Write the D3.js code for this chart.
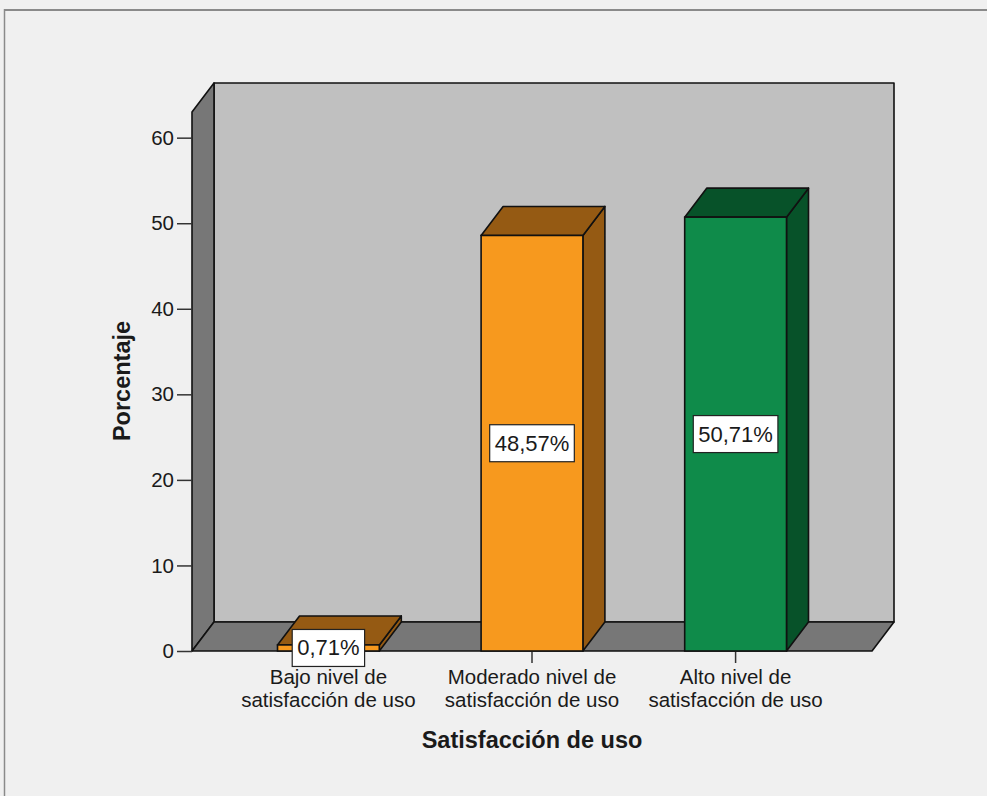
<!DOCTYPE html>
<html>
<head>
<meta charset="utf-8">
<script src="https://cdn.jsdelivr.net/npm/d3@7"></script>
<style>
  html, body { margin: 0; padding: 0; background: #f0f0f0; }
  svg { display: block; }
  text { font-family: "Liberation Sans", Arial, sans-serif; fill: #1a1a1a; }
</style>
</head>
<body>
<svg id="chart" width="987" height="796"></svg>
<script>
const categories = [["Bajo nivel de", "satisfacción de uso"], ["Moderado nivel de", "satisfacción de uso"], ["Alto nivel de", "satisfacción de uso"]];
const values = [0.71, 48.57, 50.71];
const valueLabels = ["0,71%", "48,57%", "50,71%"];
const frontColors = ["#f7991e", "#f7991e", "#0f8b4a"];
const darkColors = ["#955a13", "#955a13", "#075229"];
const yTicks = [0, 10, 20, 30, 40, 50, 60];
const yTitle = "Porcentaje";
const xTitle = "Satisfacción de uso";

const svg = d3.select("#chart");
const W = 987, H = 796;
const dx = 22, dy = -29;

svg.append("rect").attr("x", 0).attr("y", 0).attr("width", W).attr("height", H).attr("fill", "#f0f0f0");
// outer frame
svg.append("line").attr("x1", 4.5).attr("x2", W).attr("y1", 10).attr("y2", 10).attr("stroke", "#8a8a8a").attr("stroke-width", 2);
svg.append("line").attr("x1", 4.5).attr("x2", 4.5).attr("y1", 9).attr("y2", H).attr("stroke", "#8a8a8a").attr("stroke-width", 1.5);

const y = d3.scaleLinear().domain([0, 63]).range([651, 112]);
const x = d3.scaleBand().domain(d3.range(categories.length)).range([192, 872]).paddingInner(0.5).paddingOuter(0.42);

const x0 = 192, x1 = 872, yb = y(0), yt = y(63);
const stroke = "#111";
const sw = 1.6;
const poly = pts => pts.map(p => p.join(",")).join(" ");

// back wall
svg.append("polygon").attr("points", poly([[x0+dx, yt+dy],[x1+dx, yt+dy],[x1+dx, yb+dy],[x0+dx, yb+dy]]))
  .attr("fill", "#c0c0c0").attr("stroke", stroke).attr("stroke-width", sw).attr("stroke-linejoin", "round");
// left side wall
svg.append("polygon").attr("points", poly([[x0, yt],[x0+dx, yt+dy],[x0+dx, yb+dy],[x0, yb]]))
  .attr("fill", "#777777").attr("stroke", stroke).attr("stroke-width", sw).attr("stroke-linejoin", "round");
// floor
svg.append("polygon").attr("points", poly([[x0, yb],[x0+dx, yb+dy],[x1+dx, yb+dy],[x1, yb]]))
  .attr("fill", "#777777").attr("stroke", stroke).attr("stroke-width", sw).attr("stroke-linejoin", "round");

// y axis ticks & labels
const yAxis = d3.axisLeft(y).tickValues(yTicks).tickSize(15).tickPadding(3).tickFormat(d3.format("d"));
const ga = svg.append("g").attr("transform", `translate(${x0},0)`).call(yAxis);
ga.select(".domain").remove();
ga.selectAll(".tick line").attr("stroke", "#333").attr("stroke-width", 1.5);
ga.selectAll(".tick text").attr("font-size", 20.5).attr("fill", "#1a1a1a").attr("font-family", '"Liberation Sans", Arial, sans-serif');

// x axis ticks
svg.append("g").selectAll("line").data(categories).join("line")
  .attr("x1", (d, i) => x(i) + x.bandwidth()/2).attr("x2", (d, i) => x(i) + x.bandwidth()/2)
  .attr("y1", yb).attr("y2", yb + 12).attr("stroke", "#333").attr("stroke-width", 1.5);

// bars
const bars = svg.append("g").selectAll("g").data(values).join("g");
bars.each(function(v, i) {
  const g = d3.select(this);
  const bx0 = x(i), bx1 = x(i) + x.bandwidth(), yv = y(v);
  g.append("polygon").attr("points", poly([[bx1, yv],[bx1+dx, yv+dy],[bx1+dx, yb+dy],[bx1, yb]]))
    .attr("fill", darkColors[i]).attr("stroke", stroke).attr("stroke-width", sw).attr("stroke-linejoin", "round");
  g.append("polygon").attr("points", poly([[bx0, yv],[bx0+dx, yv+dy],[bx1+dx, yv+dy],[bx1, yv]]))
    .attr("fill", darkColors[i]).attr("stroke", stroke).attr("stroke-width", sw).attr("stroke-linejoin", "round");
  g.append("rect").attr("x", bx0).attr("y", yv).attr("width", bx1 - bx0).attr("height", yb - yv)
    .attr("fill", frontColors[i]).attr("stroke", stroke).attr("stroke-width", sw);
});

// value labels
bars.each(function(v, i) {
  const g = d3.select(this);
  const cx = x(i) + x.bandwidth()/2;
  const cy = (y(v) + yb) / 2;
  const t = g.append("text").attr("x", cx).attr("y", cy).attr("text-anchor", "middle")
    .attr("dominant-baseline", "central").attr("font-size", 22).text(valueLabels[i]);
  const w = t.node().getComputedTextLength();
  g.insert("rect", "text").attr("x", cx - w/2 - 5).attr("y", cy - 18.5).attr("width", w + 10).attr("height", 37)
    .attr("fill", "#ffffff").attr("stroke", "#222").attr("stroke-width", 1.2);
});

// category labels (two separate lines)
const catG = svg.append("g");
categories.forEach((lines, i) => {
  lines.forEach((line, k) => {
    catG.append("text").attr("x", x(i) + x.bandwidth()/2).attr("y", 684 + k * 23)
      .attr("text-anchor", "middle").attr("font-size", 20.5).text(line);
  });
});

// axis titles
svg.append("text").attr("x", 532).attr("y", 748).attr("text-anchor", "middle").attr("font-size", 23.5)
  .attr("font-weight", "bold").text(xTitle);
svg.append("text").attr("transform", "translate(130,381) rotate(-90)").attr("text-anchor", "middle")
  .attr("font-size", 23.5).attr("font-weight", "bold").text(yTitle);
</script>
</body>
</html>
